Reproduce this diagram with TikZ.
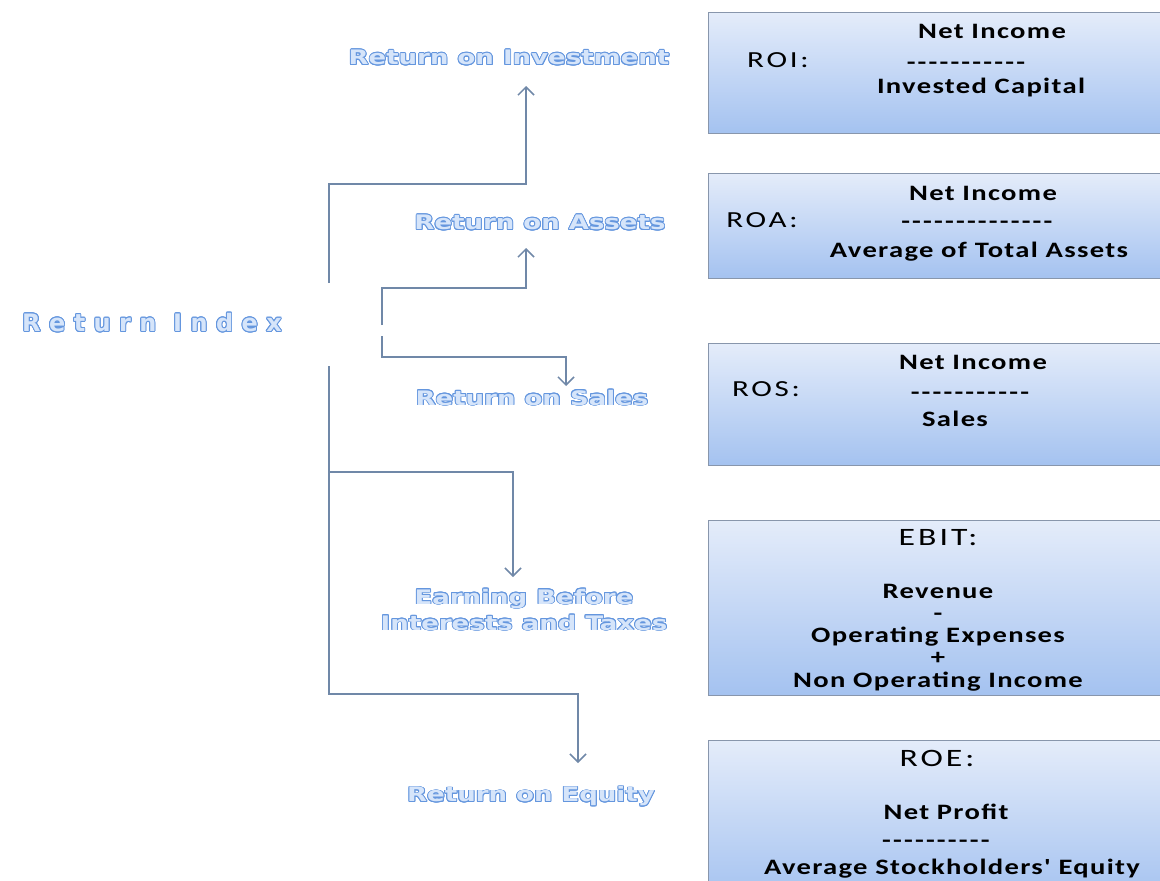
\documentclass[tikz,border=0pt]{standalone}
\usepackage{fontspec}
\usepackage{xcolor}
\usepackage{contour}
\usepackage{tikz}
\usetikzlibrary{arrows.meta, positioning}
\setmainfont{Carlito}
\newfontfamily\fmfont[FakeStretch=1.3, LetterSpace=6]{Carlito}
\newfontfamily\ttlfont[FakeStretch=1.35, LetterSpace=12]{Carlito}
\newfontfamily\artfont[FakeStretch=1.3]{DejaVu Sans}
\newfontfamily\idxfont[LetterSpace=35]{DejaVu Sans}
\definecolor{linkc}{RGB}{112, 136, 168}
\definecolor{boxtop}{RGB}{228, 236, 250}
\definecolor{boxbot}{RGB}{164, 194, 240}
\definecolor{boxline}{RGB}{136, 150, 172}
\definecolor{artfill}{RGB}{214, 229, 250}
\definecolor{artline}{RGB}{100, 150, 222}
\contourlength{0.9pt}
\newcommand{\dashrow}[1]{\foreach \k in {1,...,#1}{-\kern0.1em}}

\begin{document}
\begin{tikzpicture}[
    x=1pt, y=-1pt,
    ratio/.style={rectangle, draw=boxline, line width=1.2pt, top color=boxtop,
      bottom color=boxbot, minimum width=470pt, minimum height=#1, anchor=north west},
    ftext/.style={font=\fmfont\bfseries\fontsize{22}{24}\selectfont, inner sep=0pt,
      text height=14pt, text depth=0pt},
    fkey/.style={font=\ttlfont\fontsize{#1}{24}\selectfont, inner sep=0pt,
      text height=14pt, text depth=0pt},
    art/.style={font=\artfont\bfseries\fontsize{20}{26}\selectfont, text=artfill,
      inner sep=0pt},
    link/.style={-{Straight Barb[length=8pt, width=16pt]}, line width=1.5pt, linkc}
  ]
  \useasboundingbox (0,0) rectangle (1160,881);

  % formula boxes
  \node[ratio=121pt] (roi) at (708,12) {};
  \node[ratio=105pt] (roa) at (708,173) {};
  \node[ratio=122pt] (ros) at (708,343) {};
  \node[ratio=175pt] (ebit) at (708,520) {};
  \node[ratio=160pt] (roe) at (708,740) {};

  \node[fkey=23] (roi-k) at (778,60) {ROI:};
  \node[ftext] (roi-n) at (992,31) {Net Income};
  \node[ftext] (roi-d) at (967,62) {\dashrow{11}};
  \node[ftext] (roi-c) at (981,86) {Invested Capital};

  \node[fkey=23] (roa-k) at (762,220) {ROA:};
  \node[ftext] (roa-n) at (983,193) {Net Income};
  \node[ftext] (roa-d) at (978,221) {\dashrow{14}};
  \node[ftext] (roa-c) at (979,250) {Average of Total Assets};

  \node[fkey=23] (ros-k) at (766,389) {ROS:};
  \node[ftext] (ros-n) at (973,362) {Net Income};
  \node[ftext] (ros-d) at (971,392) {\dashrow{11}};
  \node[ftext] (ros-c) at (955,419) {Sales};

  \node[fkey=25] (ebit-k) at (938,538) {EBIT:};
  \node[ftext] (ebit-a) at (938,591) {Revenue};
  \node[ftext] (ebit-b) at (938,613) {-};
  \node[ftext] (ebit-c) at (938,635) {Operating Expenses};
  \node[ftext] (ebit-d) at (938,657) {+};
  \node[ftext] (ebit-e) at (938,680) {Non Operating Income};

  \node[fkey=25] (roe-k) at (937,759) {ROE:};
  \node[ftext] (roe-a) at (946,812) {Net Profit};
  \node[ftext] (roe-d) at (937,840) {\dashrow{10}};
  \node[ftext] (roe-c) at (952,867) {Average Stockholders' Equity};

  % index names
  \node[font=\idxfont\bfseries\fontsize{24}{26}\selectfont, text=artfill, inner sep=0pt]
    (idx) at (152,323) {\contour{artline}{Return Index}};
  \node[art] (inv) at (509,58) {\contour{artline}{Return on Investment}};
  \node[art] (ass) at (540,223) {\contour{artline}{Return on Assets}};
  \node[art] (sal) at (532,398) {\contour{artline}{Return on Sales}};
  \node[art, align=center] (ebt) at (524,610)
    {\contour{artline}{Earning Before}\\\contour{artline}{Interests and Taxes}};
  \node[art] (equ) at (531,797) {\contour{artline}{Return on Equity}};

  % connectors
  \coordinate (ra0) at (329,283);
  \coordinate (ra1) at (329,184);
  \coordinate (inv-tip) at (526,86);
  \coordinate (rb0) at (382,325);
  \coordinate (rb1) at (382,288);
  \coordinate (ass-tip) at (526,248);
  \coordinate (rc0) at (382,336);
  \coordinate (rc1) at (382,357);
  \coordinate (sal-tip) at (566,386);
  \coordinate (rd0) at (329,366);
  \coordinate (rd1) at (329,694);
  \coordinate (equ-tip) at (578,763);
  \coordinate (re0) at (329,472);
  \coordinate (ebt-tip) at (513,577);

  \draw[link] (ra0) -- (ra1) -| (inv-tip);
  \draw[link] (rb0) -- (rb1) -| (ass-tip);
  \draw[link] (rc0) -- (rc1) -| (sal-tip);
  \draw[link] (rd0) -- (rd1) -| (equ-tip);
  \draw[link] (re0) -| (ebt-tip);
\end{tikzpicture}
\end{document}
